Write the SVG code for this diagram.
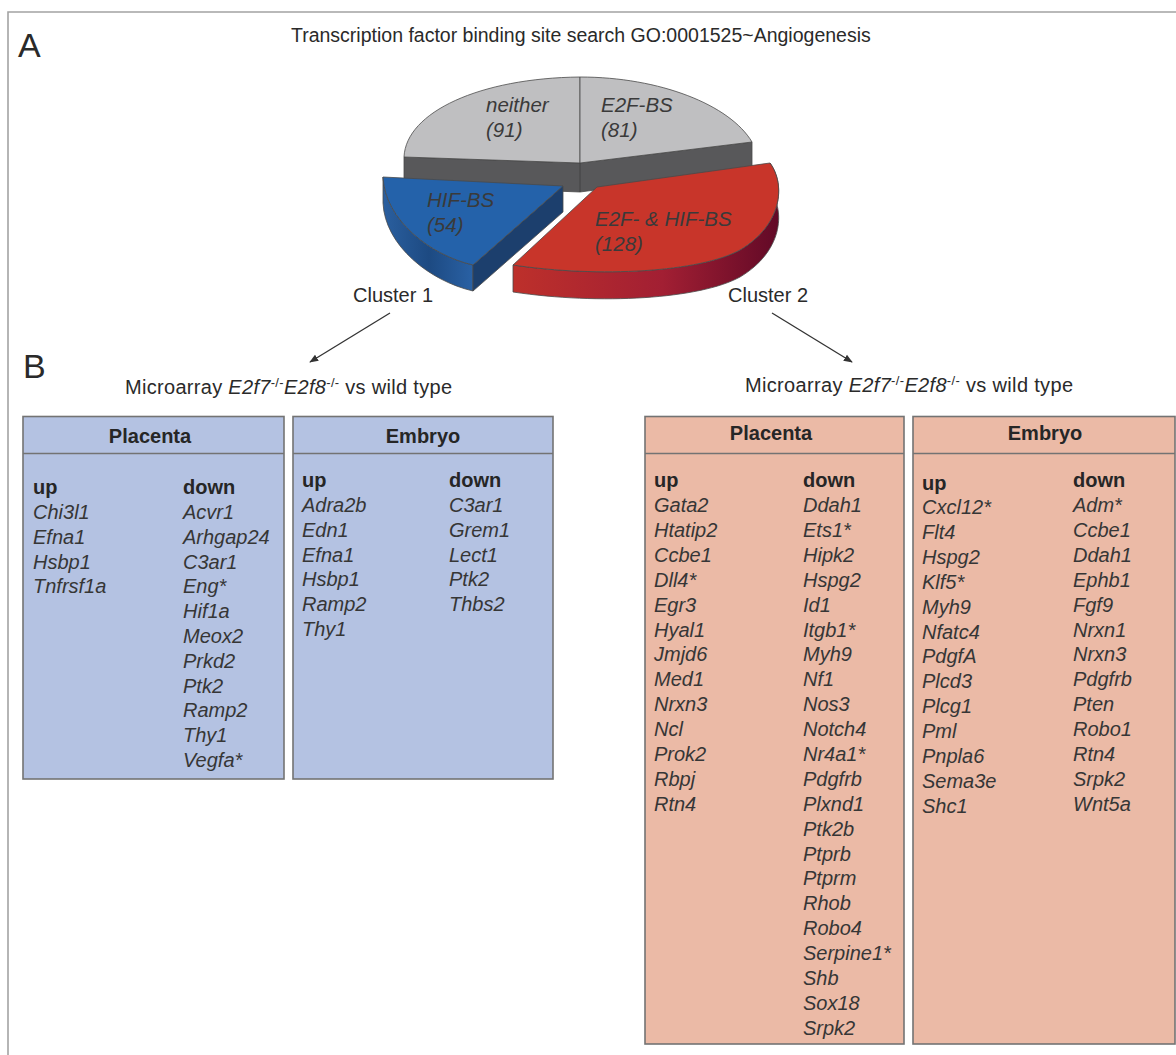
<svg xmlns="http://www.w3.org/2000/svg" width="1176" height="1055" viewBox="0 0 1176 1055">
<defs>
<style>
.t{font-family:"Liberation Sans",Arial,sans-serif;fill:#2a2a2a}
.g{font-family:"Liberation Sans",Arial,sans-serif;font-style:italic;font-size:20px;fill:#363636}
.h{font-family:"Liberation Sans",Arial,sans-serif;font-weight:bold;font-size:20px;fill:#262626}
.pl{font-family:"Liberation Sans",Arial,sans-serif;font-style:italic;font-size:20.5px;fill:#3a3a3a}
.blue{fill:#b4c2e2;stroke:#737373;stroke-width:1.6}
.pink{fill:#ebbaa6;stroke:#737373;stroke-width:1.6}
.sep{stroke:#737373;stroke-width:1.6;fill:none}
.edge{stroke:#4a4a4a;stroke-width:0.8;stroke-linejoin:round}
.arrow{stroke:#333;stroke-width:1.3;fill:none;marker-end:url(#ah)}
</style>
<marker id="ah" viewBox="0 0 10 10" refX="9" refY="5" markerWidth="9" markerHeight="9" markerUnits="userSpaceOnUse" orient="auto">
<path d="M0,1 L10,5 L0,9 Z" fill="#333"/>
</marker>
<linearGradient id="redSide" x1="513" y1="0" x2="785" y2="0" gradientUnits="userSpaceOnUse">
<stop offset="0" stop-color="#bd302b"/>
<stop offset="0.55" stop-color="#a21f33"/>
<stop offset="1" stop-color="#5e0826"/>
</linearGradient>
<linearGradient id="blueSide" x1="383" y1="0" x2="475" y2="0" gradientUnits="userSpaceOnUse">
<stop offset="0" stop-color="#2a5f9f"/>
<stop offset="0.5" stop-color="#1d4a82"/>
<stop offset="1" stop-color="#2a62a6"/>
</linearGradient>
</defs>

<rect x="0" y="0" width="1176" height="1055" fill="#ffffff"/>
<path d="M1176,12 H8 V1055" fill="none" stroke="#a3a3a3" stroke-width="1.6"/>

<g id="panel-labels">
<text class="t" x="18" y="57" font-size="34">A</text>
<text class="t" x="23" y="378" font-size="34">B</text>
<text class="t" x="291" y="42" font-size="19.5">Transcription factor binding site search GO:0001525~Angiogenesis</text>
</g>

<g id="pie">
<g id="slice-gray">
<path class="edge" d="M404,157 L580,163 L752,142 L752,169 L580,192 L404,185 Z" fill="#58585a"/>
<path class="edge" d="M404,157 C406,112 480,78 580,77 L580,163 Z" fill="#bfbfc1"/>
<path class="edge" d="M580,77 C660,77 730,105 752,142 L580,163 Z" fill="#bfbfc1"/>
<line x1="580" y1="163" x2="580" y2="192" stroke="#3e3e3e" stroke-width="0.8"/>
<text class="pl" x="486" y="112">neither</text>
<text class="pl" x="486" y="137">(91)</text>
<text class="pl" x="601" y="112">E2F-BS</text>
<text class="pl" x="601" y="137">(81)</text>
</g>
<g id="slice-hif">
<path class="edge" d="M383,177 C385,220 430,255 473,265 L473,291 C430,281 385,246 383,203 Z" fill="url(#blueSide)"/>
<path class="edge" d="M563,186 L473,265 L473,291 L563,212 Z" fill="#1c3f6d"/>
<path class="edge" d="M383,177 L563,186 L473,265 C430,255 385,220 383,177 Z" fill="#2462aa"/>
<text class="pl" x="427" y="207" fill="#2c3346">HIF-BS</text>
<text class="pl" x="427" y="232" fill="#2c3346">(54)</text>
</g>
<g id="slice-both">
<path class="edge" d="M770,163 C786,185 782,225 740,250 C700,272 600,278 513,265 L513,292 C600,305 700,299 740,277 C782,252 786,212 770,190 Z" fill="url(#redSide)"/>
<path class="edge" d="M597,187 L770,163 C786,185 782,225 740,250 C700,272 600,278 513,265 Z" fill="#c8352a"/>
<text class="pl" x="595" y="226" fill="#3a2a2a">E2F- &amp; HIF-BS</text>
<text class="pl" x="595" y="251" fill="#3a2a2a">(128)</text>
</g>
</g>

<g id="cluster-labels">
<text class="t" x="353" y="302" font-size="20">Cluster 1</text>
<text class="t" x="728" y="302" font-size="20">Cluster 2</text>
</g>

<g id="connectors">
<line class="arrow" x1="390" y1="313" x2="310" y2="362"/>
<line class="arrow" x1="772" y1="313" x2="852" y2="362"/>
</g>

<g id="microarray-labels">
<text class="t" x="125" y="394" font-size="20" textLength="327">Microarray <tspan font-style="italic">E2f7</tspan><tspan font-size="13" dy="-7">-/-</tspan><tspan font-style="italic" dy="7">E2f8</tspan><tspan font-size="13" dy="-7">-/-</tspan><tspan dy="7"> vs wild type</tspan></text>
<text class="t" x="745" y="392" font-size="20" textLength="328">Microarray <tspan font-style="italic">E2f7</tspan><tspan font-size="13" dy="-7">-/-</tspan><tspan font-style="italic" dy="7">E2f8</tspan><tspan font-size="13" dy="-7">-/-</tspan><tspan dy="7"> vs wild type</tspan></text>
</g>

<g id="box-cluster1-placenta">
<rect class="blue" x="23" y="416.5" width="261" height="362.5"/>
<line class="sep" x1="23" y1="453.5" x2="284" y2="453.5"/>
<text class="h" x="150" y="443" text-anchor="middle">Placenta</text>
<text class="h" x="33" y="494">up</text>
<text class="h" x="183" y="494">down</text>
<text class="g" x="33" y="519"><tspan x="33">Chi3l1</tspan><tspan x="33" dy="24.8">Efna1</tspan><tspan x="33" dy="24.8">Hsbp1</tspan><tspan x="33" dy="24.8">Tnfrsf1a</tspan></text>
<text class="g" x="183" y="519"><tspan x="183">Acvr1</tspan><tspan x="183" dy="24.8">Arhgap24</tspan><tspan x="183" dy="24.8">C3ar1</tspan><tspan x="183" dy="24.8">Eng*</tspan><tspan x="183" dy="24.8">Hif1a</tspan><tspan x="183" dy="24.8">Meox2</tspan><tspan x="183" dy="24.8">Prkd2</tspan><tspan x="183" dy="24.8">Ptk2</tspan><tspan x="183" dy="24.8">Ramp2</tspan><tspan x="183" dy="24.8">Thy1</tspan><tspan x="183" dy="24.8">Vegfa*</tspan></text>
</g>

<g id="box-cluster1-embryo">
<rect class="blue" x="293" y="416.5" width="260" height="362.5"/>
<line class="sep" x1="293" y1="453.5" x2="553" y2="453.5"/>
<text class="h" x="423" y="443" text-anchor="middle">Embryo</text>
<text class="h" x="302" y="487">up</text>
<text class="h" x="449" y="487">down</text>
<text class="g" x="302" y="512"><tspan x="302">Adra2b</tspan><tspan x="302" dy="24.8">Edn1</tspan><tspan x="302" dy="24.8">Efna1</tspan><tspan x="302" dy="24.8">Hsbp1</tspan><tspan x="302" dy="24.8">Ramp2</tspan><tspan x="302" dy="24.8">Thy1</tspan></text>
<text class="g" x="449" y="512"><tspan x="449">C3ar1</tspan><tspan x="449" dy="24.8">Grem1</tspan><tspan x="449" dy="24.8">Lect1</tspan><tspan x="449" dy="24.8">Ptk2</tspan><tspan x="449" dy="24.8">Thbs2</tspan></text>
</g>

<g id="box-cluster2-placenta">
<rect class="pink" x="645" y="416.5" width="259" height="627.5"/>
<line class="sep" x1="645" y1="453.5" x2="904" y2="453.5"/>
<text class="h" x="771" y="440" text-anchor="middle">Placenta</text>
<text class="h" x="654" y="487">up</text>
<text class="h" x="803" y="487">down</text>
<text class="g" x="654" y="512"><tspan x="654">Gata2</tspan><tspan x="654" dy="24.9">Htatip2</tspan><tspan x="654" dy="24.9">Ccbe1</tspan><tspan x="654" dy="24.9">Dll4*</tspan><tspan x="654" dy="24.9">Egr3</tspan><tspan x="654" dy="24.9">Hyal1</tspan><tspan x="654" dy="24.9">Jmjd6</tspan><tspan x="654" dy="24.9">Med1</tspan><tspan x="654" dy="24.9">Nrxn3</tspan><tspan x="654" dy="24.9">Ncl</tspan><tspan x="654" dy="24.9">Prok2</tspan><tspan x="654" dy="24.9">Rbpj</tspan><tspan x="654" dy="24.9">Rtn4</tspan></text>
<text class="g" x="803" y="512"><tspan x="803">Ddah1</tspan><tspan x="803" dy="24.9">Ets1*</tspan><tspan x="803" dy="24.9">Hipk2</tspan><tspan x="803" dy="24.9">Hspg2</tspan><tspan x="803" dy="24.9">Id1</tspan><tspan x="803" dy="24.9">Itgb1*</tspan><tspan x="803" dy="24.9">Myh9</tspan><tspan x="803" dy="24.9">Nf1</tspan><tspan x="803" dy="24.9">Nos3</tspan><tspan x="803" dy="24.9">Notch4</tspan><tspan x="803" dy="24.9">Nr4a1*</tspan><tspan x="803" dy="24.9">Pdgfrb</tspan><tspan x="803" dy="24.9">Plxnd1</tspan><tspan x="803" dy="24.9">Ptk2b</tspan><tspan x="803" dy="24.9">Ptprb</tspan><tspan x="803" dy="24.9">Ptprm</tspan><tspan x="803" dy="24.9">Rhob</tspan><tspan x="803" dy="24.9">Robo4</tspan><tspan x="803" dy="24.9">Serpine1*</tspan><tspan x="803" dy="24.9">Shb</tspan><tspan x="803" dy="24.9">Sox18</tspan><tspan x="803" dy="24.9">Srpk2</tspan></text>
</g>

<g id="box-cluster2-embryo">
<rect class="pink" x="913" y="416.5" width="262" height="627.5"/>
<line class="sep" x1="913" y1="453.5" x2="1175" y2="453.5"/>
<text class="h" x="1045" y="440" text-anchor="middle">Embryo</text>
<text class="h" x="922" y="490">up</text>
<text class="h" x="1073" y="487">down</text>
<text class="g" x="922" y="514"><tspan x="922">Cxcl12*</tspan><tspan x="922" dy="24.9">Flt4</tspan><tspan x="922" dy="24.9">Hspg2</tspan><tspan x="922" dy="24.9">Klf5*</tspan><tspan x="922" dy="24.9">Myh9</tspan><tspan x="922" dy="24.9">Nfatc4</tspan><tspan x="922" dy="24.9">PdgfA</tspan><tspan x="922" dy="24.9">Plcd3</tspan><tspan x="922" dy="24.9">Plcg1</tspan><tspan x="922" dy="24.9">Pml</tspan><tspan x="922" dy="24.9">Pnpla6</tspan><tspan x="922" dy="24.9">Sema3e</tspan><tspan x="922" dy="24.9">Shc1</tspan></text>
<text class="g" x="1073" y="512"><tspan x="1073">Adm*</tspan><tspan x="1073" dy="24.9">Ccbe1</tspan><tspan x="1073" dy="24.9">Ddah1</tspan><tspan x="1073" dy="24.9">Ephb1</tspan><tspan x="1073" dy="24.9">Fgf9</tspan><tspan x="1073" dy="24.9">Nrxn1</tspan><tspan x="1073" dy="24.9">Nrxn3</tspan><tspan x="1073" dy="24.9">Pdgfrb</tspan><tspan x="1073" dy="24.9">Pten</tspan><tspan x="1073" dy="24.9">Robo1</tspan><tspan x="1073" dy="24.9">Rtn4</tspan><tspan x="1073" dy="24.9">Srpk2</tspan><tspan x="1073" dy="24.9">Wnt5a</tspan></text>
</g>
</svg>
